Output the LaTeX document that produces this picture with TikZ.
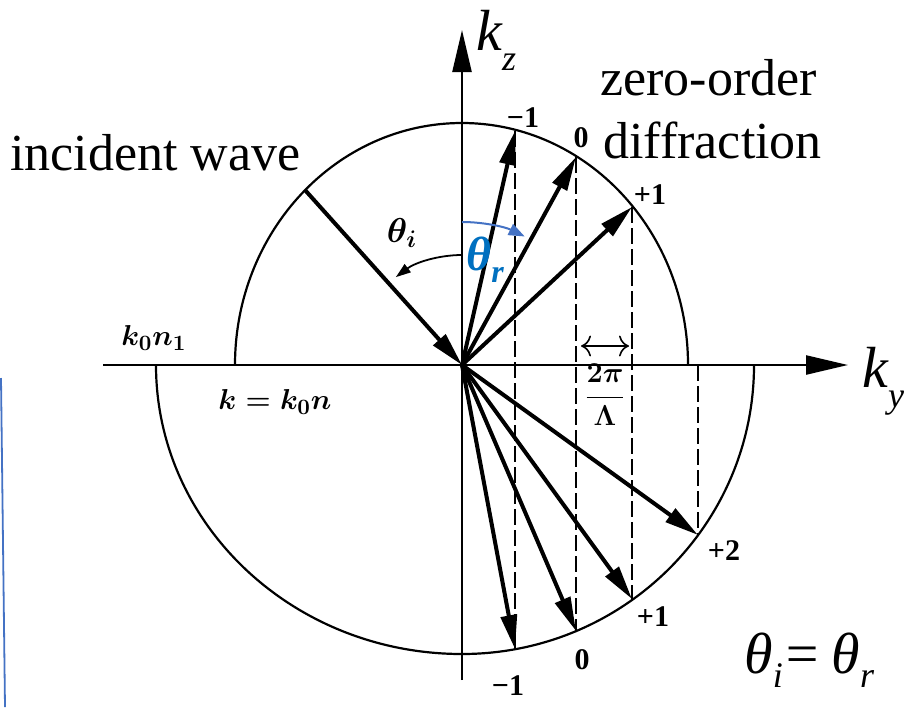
\documentclass[tikz,border=0pt]{standalone}
\usepackage{fontspec}
\setmainfont{LiberationSerif}[
    Extension=.ttf,
    UprightFont=*-Regular,
    BoldFont=*-Bold,
    ItalicFont=*-Italic,
    BoldItalicFont=*-BoldItalic]
\usetikzlibrary{arrows.meta}
\definecolor{thetablue}{HTML}{0070C0}
\definecolor{arcblue}{HTML}{4472C4}
\newcommand{\lowsub}[3]{\raisebox{#1}{\fontsize{#2}{#2}\selectfont #3}}

\begin{document}
\begin{tikzpicture}[
    x=0.5pt, y=-0.5pt,
    kaxis/.style={
        line width=1.2pt,
        -{Triangle[length=21pt,width=9.5pt]}
    },
    wavevec/.style={
        line width=2pt,
        -{Triangle[length=17pt,width=8pt]}
    },
    kcircle/.style={
        line width=1.1pt
    },
    proj/.style={
        line width=1.2pt,
        dash pattern=on 8pt off 2.5pt
    },
    ordlabel/.style={
        inner sep=0pt,
        font=\fontsize{15}{17}\selectfont\bfseries
    },
    bigtext/.style={
        inner sep=0pt,
        anchor=base west,
        font=\fontsize{26}{30}\selectfont
    },
    mathlabel/.style={
        inner sep=0pt,
        font=\fontsize{15}{17}\selectfont\boldmath
    }
]
\useasboundingbox (0,0) rectangle (914,707);

% Ursprung und Achsen
\coordinate (O) at (462,365);
\coordinate (ztop) at (462,30);
\coordinate (zbot) at (462,680);
\coordinate (yleft) at (103,365);
\coordinate (yright) at (848,365);
\draw[kaxis] (zbot) -- (ztop);
\draw[kaxis] (yleft) -- (yright);

% Kreise k0 n1 (oben) und k0 n (unten)
\draw[kcircle] (235,365) arc[start angle=180, end angle=270, x radius=227, y radius=242]
    arc[start angle=270, end angle=360, x radius=226, y radius=242];
\draw[kcircle] (156,365) arc[start angle=180, end angle=90, x radius=306, y radius=289]
    arc[start angle=90, end angle=0, x radius=292, y radius=289];

% Endpunkte der Wellenvektoren
\coordinate (inc) at (305,190);
\coordinate (um1) at (515,131);
\coordinate (u0) at (576,157);
\coordinate (up1) at (632,207);
\coordinate (lm1) at (515,649);
\coordinate (l0) at (576,631);
\coordinate (lp1) at (632,599);
\coordinate (lp2) at (698,535);
\coordinate (ap2) at (698,365);

% Projektionslinien
\draw[proj] (um1) -- (lm1);
\draw[proj] (u0) -- (l0);
\draw[proj] (up1) -- (lp1);
\draw[proj] (ap2) -- (lp2);

% Wellenvektoren
\draw[wavevec] (inc) -- (O);
\draw[wavevec] (O) -- (um1);
\draw[wavevec] (O) -- (u0);
\draw[wavevec] (O) -- (up1);
\draw[wavevec] (O) -- (lm1);
\draw[wavevec] (O) -- (l0);
\draw[wavevec] (O) -- (lp1);
\draw[wavevec] (O) -- (lp2);

% Winkel
\coordinate (istart) at (462,255);
\draw[line width=0.9pt, -{Triangle[length=7.5pt,width=5pt]}]
    (istart) arc[start angle=270, end angle=233, radius=110];
\coordinate (rstart) at (462,222);
\draw[arcblue, line width=1pt, -{Triangle[length=8pt,width=6pt]}]
    (rstart) arc[start angle=270, end angle=296, radius=143];

% Gitterperiode
\coordinate (gl) at (581,346);
\coordinate (gr) at (629,346);
\draw[line width=0.8pt, {To[length=5pt]}-{To[length=5pt]}] (gl) -- (gr);
\node[mathlabel] (period) at (605,395)
    {$\displaystyle\frac{2\pi}{\Lambda}$};

% Beschriftungen
\node[bigtext] (incident) at (10,170) {incident wave};
\node[bigtext] (zeroorder) at (600,95) {zero-order};
\node[bigtext] (diffraction) at (603,158) {diffraction};
\node[inner sep=0pt, anchor=base west, font=\fontsize{29}{30}\selectfont\itshape] (kz)
    at (476,50) {k\lowsub{-10pt}{18}{z}};
\node[inner sep=0pt, anchor=base west, font=\fontsize{29}{30}\selectfont\itshape] (ky)
    at (862,387) {k\lowsub{-10pt}{18}{y}};
\node[inner sep=0pt, anchor=base west, font=\fontsize{29}{30}\selectfont\itshape] (equal)
    at (744,673) {θ\lowsub{-7pt}{18}{i}=\,θ\lowsub{-7pt}{18}{r}};
\node[inner sep=0pt, anchor=base west, text=thetablue,
      font=\fontsize{24}{26}\selectfont\bfseries\itshape] (thetar)
    at (466,270) {θ\lowsub{-6pt}{16}{r}};
\node[mathlabel, font=\fontsize{17}{19}\selectfont\boldmath] (thetai) at (402,233) {$\theta_i$};
\node[mathlabel] (kn1) at (154,338) {$k_0n_1$};
\node[mathlabel] (kn) at (275,402) {$k=k_0n$};

% Beugungsordnungen
\node[ordlabel] (tm1) at (523,118) {−1};
\node[ordlabel] (t0) at (581,138) {0};
\node[ordlabel] (tp1) at (650,195) {+1};
\node[ordlabel] (bp2) at (724,551) {+2};
\node[ordlabel] (bp1) at (653,617) {+1};
\node[ordlabel] (b0) at (582,660) {0};
\node[ordlabel] (bm1) at (508,686) {−1};

% Randlinie links
\coordinate (bluetop) at (1,378);
\coordinate (bluebot) at (5,707);
\draw[arcblue, line width=0.9pt] (bluetop) -- (bluebot);

\end{tikzpicture}
\end{document}
